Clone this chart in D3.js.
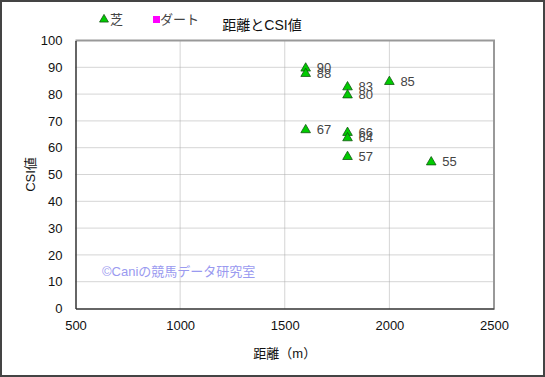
<!DOCTYPE html>
<html>
<head>
<meta charset="utf-8">
<script src="https://cdnjs.cloudflare.com/ajax/libs/d3/7.8.5/d3.min.js"></script>
<style>
    body { margin: 0; background: #fff; }
    svg text { font-family: "Liberation Sans", "Noto Sans CJK JP", sans-serif; fill: #111; }
</style>
</head>
<body>
<svg id="chart" width="545" height="377"></svg>
<script>
    // data
    const distances = [1600, 1600, 1800, 1800, 2000, 1600, 1800, 1800, 1800, 2200];
    const csiValues = [90, 88, 83, 80, 85, 67, 66, 64, 57, 55];
    const xTicks = [500, 1000, 1500, 2000, 2500];
    const yTicks = [0, 10, 20, 30, 40, 50, 60, 70, 80, 90, 100];
    const legendNames = ["芝", "ダート"];

    const width = 545, height = 377;
    const margin = { top: 40.5, right: 51, bottom: 68.5, left: 75.5 };

    const svg = d3.select("#chart");

    // outer frame
    svg.append("rect")
        .attr("x", 1).attr("y", 1)
        .attr("width", width - 2).attr("height", height - 2)
        .attr("fill", "#fff")
        .attr("stroke", "#444").attr("stroke-width", 2);

    const x = d3.scaleLinear().domain([500, 2500]).range([margin.left, width - margin.right]);
    const y = d3.scaleLinear().domain([0, 100]).range([height - margin.bottom, margin.top]);

    // grid lines
    svg.append("g").selectAll("line")
        .data(xTicks.slice(1, -1))
        .enter().append("line")
        .attr("x1", d => x(d)).attr("x2", d => x(d))
        .attr("y1", y(0)).attr("y2", y(100))
        .attr("stroke", "#aaa").attr("stroke-dasharray", "1,1");

    svg.append("g").selectAll("line")
        .data(yTicks.slice(1, -1))
        .enter().append("line")
        .attr("x1", x(500)).attr("x2", x(2500))
        .attr("y1", d => y(d)).attr("y2", d => y(d))
        .attr("stroke", "#aaa").attr("stroke-dasharray", "1,1");

    // plot frame: light top/right, dark axes on left/bottom
    svg.append("path")
        .attr("d", `M${x(500)},${y(100)}H${x(2500)}V${y(0)}`)
        .attr("fill", "none").attr("stroke", "#999").attr("stroke-width", 2);

    const xAxis = svg.append("g")
        .attr("transform", `translate(0,${y(0)})`)
        .call(d3.axisBottom(x).tickValues(xTicks).tickFormat(d3.format("d")).tickSize(0).tickPadding(12));
    const yAxis = svg.append("g")
        .attr("transform", `translate(${x(500)},0)`)
        .call(d3.axisLeft(y).tickValues(yTicks).tickSize(0).tickPadding(13));
    [xAxis, yAxis].forEach(a => {
        a.select(".domain").attr("stroke", "#333").attr("stroke-width", 1.5);
        a.selectAll("text").attr("font-size", 13)
            .style("font-family", "'Liberation Sans', sans-serif").style("fill", "#111");
    });

    // watermark
    svg.append("text")
        .attr("x", 102).attr("y", 276)
        .attr("font-size", 13)
        .style("fill", "#9a9af0")
        .text("©Caniの競馬データ研究室");

    // points
    const pts = distances.map((d, i) => ({ d: d, v: csiValues[i] }));
    const tri = d3.symbol().type(d3.symbolTriangle).size(40);

    svg.append("g").selectAll("path")
        .data(pts)
        .enter().append("path")
        .attr("d", tri)
        .attr("transform", p => `translate(${x(p.d)},${y(p.v) + 1})`)
        .attr("fill", "#00cc00")
        .attr("stroke", "#115511").attr("stroke-width", 0.8);

    svg.append("g").selectAll("text")
        .data(pts)
        .enter().append("text")
        .attr("x", p => x(p.d) + 11)
        .attr("y", p => y(p.v) + 5)
        .attr("font-size", 13)
        .style("fill", "#444")
        .text(p => p.v);

    // legend
    svg.append("path")
        .attr("d", d3.symbol().type(d3.symbolTriangle).size(34))
        .attr("transform", "translate(104,19.5)")
        .attr("fill", "#00cc00")
        .attr("stroke", "#115511").attr("stroke-width", 0.8);
    svg.append("text")
        .attr("x", 110).attr("y", 24)
        .attr("font-size", 13).style("fill", "#444")
        .text(legendNames[0]);
    svg.append("rect")
        .attr("x", 153).attr("y", 16)
        .attr("width", 7).attr("height", 7)
        .attr("fill", "#ff00ff");
    svg.append("text")
        .attr("x", 160).attr("y", 24)
        .attr("font-size", 13).style("fill", "#444")
        .text(legendNames[1]);

    // title and axis labels
    svg.append("text")
        .attr("x", 262).attr("y", 30)
        .attr("text-anchor", "middle")
        .attr("font-size", 14)
        .text("距離とCSI値");

    svg.append("text")
        .attr("x", x(1500)).attr("y", 358)
        .attr("text-anchor", "middle")
        .attr("font-size", 13)
        .text("距離（m）");

    svg.append("text")
        .attr("transform", `translate(35,${y(50)}) rotate(-90)`)
        .attr("text-anchor", "middle")
        .attr("font-size", 13)
        .text("CSI値");
</script>
</body>
</html>
